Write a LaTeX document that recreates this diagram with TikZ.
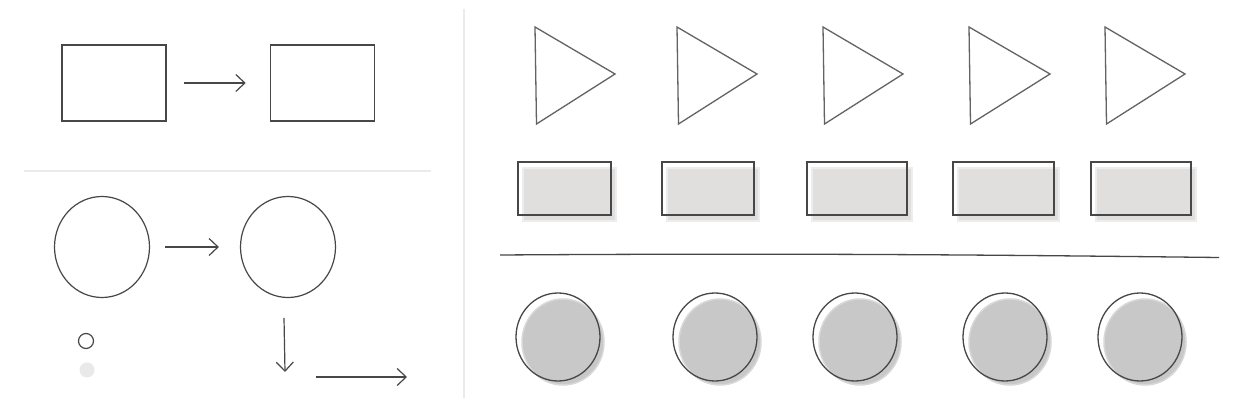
\documentclass[tikz,border=0pt]{standalone}
\usetikzlibrary{arrows.meta,shapes.geometric}
\definecolor{ink}{HTML}{474747}
\definecolor{rfill}{HTML}{E0DFDD}
\definecolor{rshade}{HTML}{EDEDED}
\definecolor{cfill}{HTML}{C9C8C9}
\definecolor{cshade}{HTML}{D8D8D8}
\definecolor{divider}{HTML}{EBEBEB}
\definecolor{dotgrey}{HTML}{E9E9E9}
\begin{document}
\begin{tikzpicture}[x=1pt,y=-1pt,
  box/.style={draw=ink, line width=1.6pt, minimum width=104pt, minimum height=76pt, inner sep=0pt},
  ring/.style={draw=ink, line width=1.2pt, ellipse, minimum width=95pt, minimum height=101pt, inner sep=0pt},
  arr/.style={draw=ink, line width=1.2pt, -{Straight Barb[length=9pt,width=17pt,line width=1.2pt]}},
  tri/.style={draw=ink!85, line width=1.3pt, line join=miter},
  rbox/.style={draw=ink, line width=1.6pt, minimum height=53pt, inner sep=0pt},
  rboxfill/.style={fill=rfill, draw=rshade, line width=1.5pt, minimum height=53pt, inner sep=0pt},
  dot/.style={draw=ink, line width=1.2pt, circle, minimum size=15pt, inner sep=0pt},
  greydot/.style={fill=dotgrey, circle, minimum size=15pt, inner sep=0pt},
  disc/.style={draw=ink, line width=1.3pt, ellipse, minimum width=84pt, minimum height=88pt, inner sep=0pt},
  discfill/.style={fill=cfill, draw=cshade, line width=1.5pt, ellipse, minimum width=82pt, minimum height=86pt, inner sep=0pt}
]
\useasboundingbox[fill=white] (0,0) rectangle (1250,411);

% dividers
\coordinate (hl1) at (24,171);
\coordinate (hl2) at (431,171);
\draw[divider, line width=1.5pt] (hl1) -- (hl2);
\coordinate (vl1) at (464,9);
\coordinate (vl2) at (464,398);
\draw[divider, line width=1.8pt] (vl1) -- (vl2);

% left top: boxes
\node[box] (r1) at (114,83) {};
\node[box] (r2) at (322.5,83) {};
\draw[arr, shorten <=17pt, shorten >=24pt] (r1.east) -- (r2.west);

% left bottom: circles
\node[ring] (c1) at (102,247) {};
\node[ring] (c2) at (288,247) {};
\draw[arr, shorten <=15pt, shorten >=21pt] (c1.east) -- (c2.west);

\node[dot] (s1) at (86,341) {};
\node[greydot] (s2) at (87,370) {};

\coordinate (d1) at (284,318);
\coordinate (d2) at (285,372);
\draw[arr] (d1) -- (d2);
\coordinate (h1) at (316,377);
\coordinate (h2) at (407,377);
\draw[arr] (h1) -- (h2);

% right: triangles
\foreach \L/\T [count=\i] in {535/615, 677/757, 823/903, 969/1050, 1105/1185}{
  \coordinate (t\i a) at (\L,27);
  \coordinate (t\i b) at (\T,74);
  \coordinate (t\i c) at (\L+1.5,124);
  \draw[tri] (t\i a) -- (t\i b) -- (t\i c) -- cycle;
}

% right: boxes
\foreach \x/\w [count=\i] in {564.5/93, 708/92, 857/100, 1003.5/101, 1141/100}{
  \node[rboxfill, minimum width=\w pt] (bf\i) at (\x+5,189.5+5) {};
  \node[rbox, minimum width=\w pt] (b\i) at (\x,188.5) {};
}

% right: long line
\coordinate (ln1) at (500,255);
\coordinate (ln2) at (1219,257.5);
\draw[ink, line width=1.3pt] (ln1) .. controls (800,253) and (1000,255) .. (ln2);

% right: discs
\foreach \x [count=\i] in {558, 715, 855, 1005, 1140}{
  \node[discfill] (df\i) at (\x+5,337+5) {};
  \node[disc] (d\i c) at (\x,337) {};
}
\end{tikzpicture}
\end{document}
